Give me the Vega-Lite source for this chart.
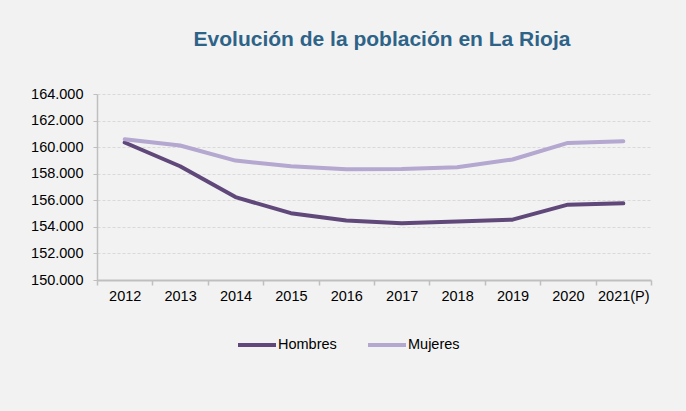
{
  "$schema": "https://vega.github.io/schema/vega-lite/v6.json",
  "width": 554,
  "height": 186,
  "autosize": {"type": "none"},
  "padding": {"left": 97, "top": 94, "right": 35, "bottom": 131},
  "background": "#f2f2f2",
  "title": {
    "text": "Evolución de la población en La Rioja",
    "font": "Liberation Sans",
    "fontSize": 21,
    "fontWeight": "bold",
    "color": "#2e6388",
    "anchor": "middle",
    "frame": "group",
    "dx": 8,
    "offset": 36
  },
  "config": {
    "view": {"stroke": null},
    "font": "Liberation Sans"
  },
  "data": {
    "values": [
      {"anio": "2012", "sexo": "Hombres", "poblacion": 160350},
      {"anio": "2013", "sexo": "Hombres", "poblacion": 158560},
      {"anio": "2014", "sexo": "Hombres", "poblacion": 156240},
      {"anio": "2015", "sexo": "Hombres", "poblacion": 155030},
      {"anio": "2016", "sexo": "Hombres", "poblacion": 154480},
      {"anio": "2017", "sexo": "Hombres", "poblacion": 154280},
      {"anio": "2018", "sexo": "Hombres", "poblacion": 154410},
      {"anio": "2019", "sexo": "Hombres", "poblacion": 154540},
      {"anio": "2020", "sexo": "Hombres", "poblacion": 155670},
      {"anio": "2021(P)", "sexo": "Hombres", "poblacion": 155770},
      {"anio": "2012", "sexo": "Mujeres", "poblacion": 160600},
      {"anio": "2013", "sexo": "Mujeres", "poblacion": 160120},
      {"anio": "2014", "sexo": "Mujeres", "poblacion": 158990},
      {"anio": "2015", "sexo": "Mujeres", "poblacion": 158560},
      {"anio": "2016", "sexo": "Mujeres", "poblacion": 158340},
      {"anio": "2017", "sexo": "Mujeres", "poblacion": 158360},
      {"anio": "2018", "sexo": "Mujeres", "poblacion": 158490},
      {"anio": "2019", "sexo": "Mujeres", "poblacion": 159070},
      {"anio": "2020", "sexo": "Mujeres", "poblacion": 160320},
      {"anio": "2021(P)", "sexo": "Mujeres", "poblacion": 160450}
    ]
  },
  "mark": {"type": "line", "strokeWidth": 4, "interpolate": "linear", "strokeCap": "round", "strokeJoin": "round"},
  "encoding": {
    "x": {
      "field": "anio",
      "type": "nominal",
      "sort": null,
      "scale": {"type": "band", "paddingInner": 0, "paddingOuter": 0},
      "axis": {
        "title": null,
        "labelAngle": 0,
        "labelFont": "Liberation Sans",
        "labelFontSize": 14.5,
        "labelColor": "#000000",
        "labelPadding": 4,
        "tickBand": "extent",
        "ticks": true,
        "tickSize": 5,
        "tickColor": "#bfbfbf",
        "tickWidth": 1.5,
        "domainColor": "#bfbfbf",
        "domainWidth": 2,
        "grid": false
      }
    },
    "y": {
      "field": "poblacion",
      "type": "quantitative",
      "scale": {"domain": [150000, 164000], "nice": false, "zero": false},
      "axis": {
        "title": null,
        "values": [150000, 152000, 154000, 156000, 158000, 160000, 162000, 164000],
        "labelExpr": "replace(format(datum.value, ','), ',', '.')",
        "labelFont": "Liberation Sans",
        "labelFontSize": 14.5,
        "labelColor": "#000000",
        "labelPadding": 10,
        "tickSize": 4,
        "tickColor": "#bfbfbf",
        "domainColor": "#bfbfbf",
        "domainWidth": 1.5,
        "grid": true,
        "gridColor": "#d9d9d9",
        "gridDash": [3, 2],
        "gridWidth": 1
      }
    },
    "color": {
      "field": "sexo",
      "type": "nominal",
      "scale": {"domain": ["Hombres", "Mujeres"], "range": ["#60497a", "#b4a7d0"]},
      "legend": {
        "title": null,
        "orient": "none",
        "direction": "horizontal",
        "legendX": 139,
        "legendY": 230,
        "symbolType": "stroke",
        "symbolSize": 1444,
        "symbolStrokeWidth": 4,
        "labelFont": "Liberation Sans",
        "labelFontSize": 14.5,
        "labelColor": "#000000",
        "labelOffset": 0,
        "columnPadding": 23
      }
    }
  }
}
